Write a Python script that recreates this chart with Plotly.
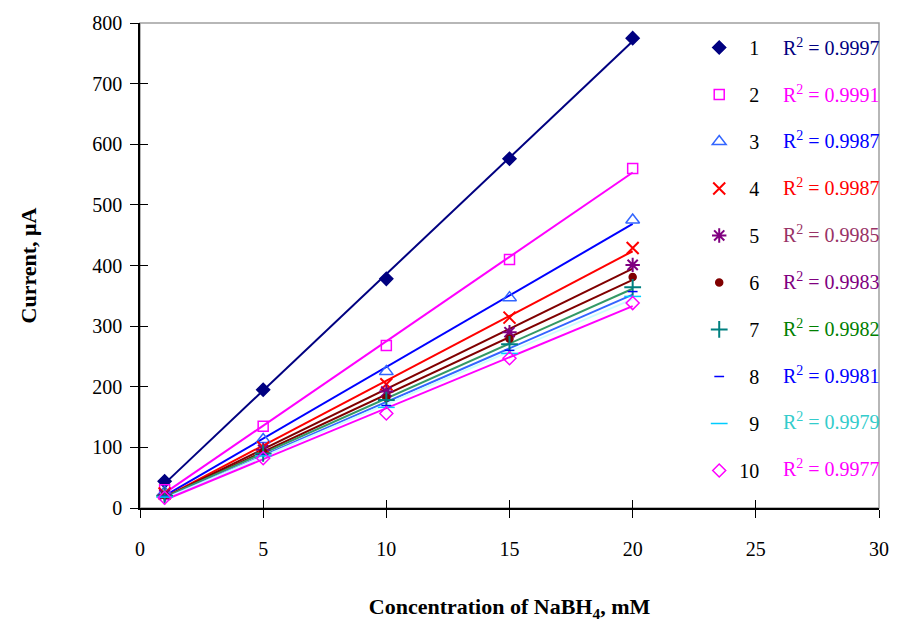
import numpy as np
import plotly.graph_objects as go

conc = [1, 5, 10, 15, 20]
s1 = [44, 195, 378, 576, 775]
s2 = [30, 135, 268, 410, 560]
s3 = [26, 113, 225, 347, 475]
s4 = [24, 100, 204, 314, 429]
s5 = [22, 96, 192, 290, 401]
s6 = [21, 92, 182, 279, 381]
s7 = [20, 90, 178, 270, 364]
s8 = [19, 87, 169, 260, 357]
s9 = [18, 86, 166, 255, 349]
s10 = [17, 82, 156, 247, 338]
series = [s1, s2, s3, s4, s5, s6, s7, s8, s9, s10]
names = ["1", "2", "3", "4", "5", "6", "7", "8", "9", "10"]
r2_labels = ["0.9997", "0.9991", "0.9987", "0.9987", "0.9985",
             "0.9983", "0.9982", "0.9981", "0.9979", "0.9977"]

marker_sym = ["diamond", "square-open", "triangle-up-open", "x-thin-open", "asterisk-open",
              "circle", "cross-thin-open", "line-ew-open", "line-ew-open", "diamond-open"]
marker_col = ["#000080", "#FF00FF", "#3366FF", "#FF0000", "#800080",
              "#800000", "#008080", "#0000FF", "#00CCFF", "#FF00FF"]
marker_size = [10, 10, 12, 12, 12, 7, 12, 7, 12, 10]
line_col = ["#000080", "#FF00FF", "#0000FF", "#FF0000", "#800000",
            "#800000", "#339966", "#3366FF", "#CCFFFF", "#FF00FF"]
label_col = ["#000080", "#FF00FF", "#0000FF", "#FF0000", "#993366",
             "#800080", "#008000", "#0000FF", "#33CCCC", "#FF00FF"]

FONT = "Liberation Serif"
fig = go.Figure()

# trendlines (linear fits)
for i, s in enumerate(series):
    k, b = np.polyfit(conc, s, 1)
    xs = [conc[0], conc[-1]]
    fig.add_trace(go.Scatter(x=xs, y=[k * v + b for v in xs], mode="lines",
                             line=dict(color=line_col[i], width=2),
                             showlegend=False, hoverinfo="skip"))

for i, s in enumerate(series):
    nm = ("&nbsp;&nbsp;" + names[i]) if len(names[i]) == 1 else names[i]
    fig.add_trace(go.Scatter(x=conc, y=s, mode="markers", name=nm,
                             legendgroup="g" + names[i],
                             marker=dict(symbol=marker_sym[i], color=marker_col[i],
                                         size=marker_size[i],
                                         line=dict(color=marker_col[i], width=2 if i in (4, 6, 3) else 1.5))))

# R^2 labels
row0 = 43
step = 47.2
for i, r in enumerate(r2_labels):
    ypx = row0 + step * i
    fig.add_annotation(xref="paper", yref="paper", x=(887 - 140) / 744,
                       y=(508 - ypx) / 489, xanchor="right", yanchor="middle",
                       text="R<sup>2</sup> = " + r, showarrow=False,
                       font=dict(family=FONT, size=20, color=label_col[i]))

# gray plot frame
fig.add_shape(type="rect", xref="paper", yref="paper", x0=0, y0=0, x1=1, y1=1,
              line=dict(color="#A0A0A0", width=1.5), layer="below")

axis_common = dict(showgrid=False, zeroline=False, showline=True, linecolor="black",
                   linewidth=1.5, tickcolor="black", tickwidth=1.2,
                   tickfont=dict(family=FONT, size=20, color="black"))

fig.update_layout(
    width=901, height=627,
    margin=dict(l=140, r=17, t=19, b=119),
    paper_bgcolor="white", plot_bgcolor="white",
    font=dict(family=FONT),
    xaxis=dict(range=[0, 30], dtick=5, tick0=0, ticks="outside", ticklen=8,
               ticklabelstandoff=14,
               title=dict(text="<b>Concentration of NaBH<sub>4</sub>, mM</b>", standoff=40,
                          font=dict(family=FONT, size=22, color="black")),
               **axis_common),
    yaxis=dict(range=[0, 800], dtick=100, tick0=0, ticks="outside", ticklen=8,
               ticklabelstandoff=4,
               title=dict(text="<b>Current, μA</b>", standoff=50,
                          font=dict(family=FONT, size=22, color="black")),
               **axis_common),
    xaxis2=dict(range=[0, 30], dtick=5, tick0=0, ticks="inside", ticklen=8,
                overlaying="x", showticklabels=False, showline=False, showgrid=False,
                zeroline=False, tickcolor="black", tickwidth=1.2),
    yaxis2=dict(range=[0, 800], dtick=100, tick0=0, ticks="inside", ticklen=8,
                overlaying="y", showticklabels=False, showline=False, showgrid=False,
                zeroline=False, tickcolor="black", tickwidth=1.2),
    legend=dict(x=(703 - 140) / 744, y=(508 - 24) / 489, xanchor="left", yanchor="top",
                bgcolor="rgba(0,0,0,0)", traceorder="grouped", tracegroupgap=18,
                font=dict(family=FONT, size=20, color="black")),
    showlegend=True,
)

# invisible trace to activate the secondary axes for crossing ticks
fig.add_trace(go.Scatter(x=[conc[0]], y=[s1[0]], xaxis="x2", yaxis="y2", mode="markers",
                         marker=dict(opacity=0), showlegend=False, hoverinfo="skip"))

fig.write_html("out.html")
